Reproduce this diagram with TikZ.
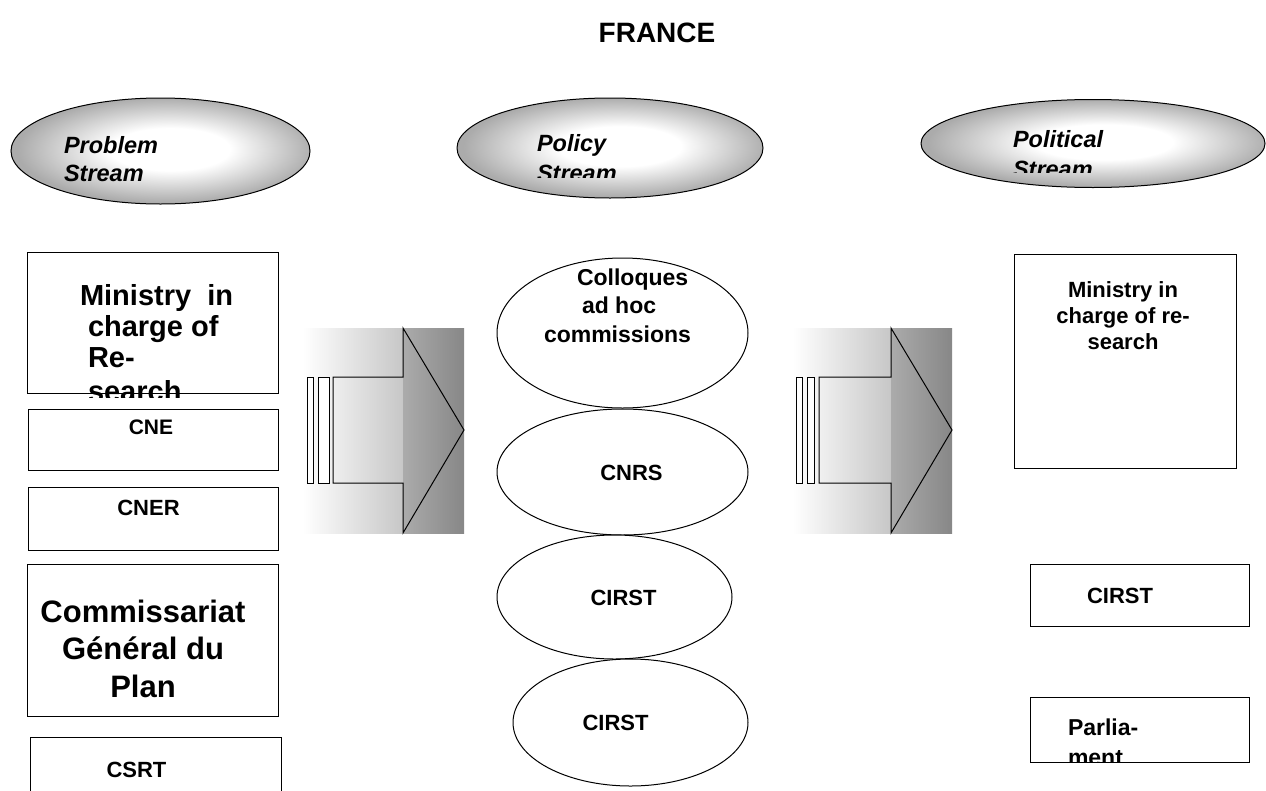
\documentclass[tikz,border=0pt]{standalone}
\usepackage{fontspec}
\setmainfont{Liberation Sans}
\usetikzlibrary{shapes.geometric}
\pgfdeclareradialshading{streamshade}{\pgfpoint{2bp}{1bp}}{color(0bp)=(white); color(10bp)=(white); color(25bp)=(black!33); color(50bp)=(black!33)}
\begin{document}
\begin{tikzpicture}[x=1pt,y=-1pt,line width=1pt,
  box/.style={draw,rectangle,inner sep=0pt,outer sep=0pt,fill=white},
  oval/.style={draw,ellipse,inner sep=0pt,outer sep=0pt,fill=white},
  stream/.style={draw,ellipse,inner sep=0pt,outer sep=0pt,shade,shading=streamshade},
  lbl/.style={inner sep=0pt,outer sep=0pt,anchor=base,font=\bfseries\fontsize{#1}{#1}\selectfont},
  lbl/.default=22,
  lblw/.style={inner sep=0pt,outer sep=0pt,anchor=base west,font=\bfseries\fontsize{#1}{#1}\selectfont},
  lblw/.default=22,
  slbl/.style={inner sep=0pt,outer sep=0pt,anchor=base west,font=\bfseries\itshape\fontsize{23.5}{23.5}\selectfont},
  bar/.style={draw,fill=white,line width=0.9pt},
  outline/.style={draw,line width=1pt,line join=miter}]
\useasboundingbox (0,0) rectangle (1266,790);
\clip (0,0) rectangle (1266,790);

% title
\node[lbl=28] (title) at (657,42) {FRANCE};

% stream ellipses
\node[stream,minimum width=299pt,minimum height=106pt] (prob) at (160.5,151) {};
\node[stream,minimum width=306pt,minimum height=100pt] (pol) at (610,148) {};
\node[stream,minimum width=344pt,minimum height=88pt] (polit) at (1093,143.5) {};
\node[slbl] (probA) at (64,153) {Problem};
\node[slbl] (probB) at (64,181) {Stream};
\node[slbl] (polA) at (537,151) {Policy};
\begin{scope}
  \clip (450,100) rectangle (760,177);
  \node[slbl] (polB) at (537,181) {Stream};
\end{scope}
\node[slbl] (politA) at (1013,147) {Political};
\begin{scope}
  \clip (930,100) rectangle (1260,172);
  \node[slbl] (politB) at (1013,177) {Stream};
\end{scope}

% left column
\node[box,minimum width=251pt,minimum height=141pt] (minL) at (152.5,322.5) {};
\node[lblw=29] (minL1) at (80,305) {Ministry~ in};
\node[lblw=29] (minL2) at (88,336) {charge of};
\node[lblw=29] (minL3) at (88,367) {Re-};
\begin{scope}
  \clip (20,380) rectangle (290,397);
  \node[lblw=29] (minL4) at (88,401) {search};
\end{scope}
\node[box,minimum width=250pt,minimum height=61pt] (cne) at (153,439.5) {};
\node[lbl=21] (cneT) at (151,434) {CNE};
\node[box,minimum width=250pt,minimum height=63pt] (cner) at (153,518.5) {};
\node[lbl=22] (cnerT) at (148.5,515) {CNER};
\node[box,minimum width=251pt,minimum height=152pt] (cgp) at (152.5,640) {};
\node[lbl=31] (cgp1) at (143,622) {Commissariat};
\node[lbl=31] (cgp2) at (143,659) {Général du};
\node[lbl=31] (cgp3) at (143,697) {Plan};
\node[box,minimum width=251pt,minimum height=56pt] (csrt) at (155.5,765) {};
\node[lbl=22] (csrtT) at (136.5,777) {CSRT};

% arrow 1
\shade[left color=white,right color=black!22] (303,328) rectangle (403,533);
\shade[left color=black!33,right color=black!47] (403,328) rectangle (464,533);
\coordinate (a1s) at (333,377);
\coordinate (a1t) at (464,430);
\draw[outline] (a1s) -- (403,377) -- (403,328) -- (a1t) -- (403,533) -- (403,483) -- (333,483) -- cycle;
\draw[bar] (307,377) rectangle (313,483);
\draw[bar] (318,377) rectangle (329,483);

% arrow 2
\shade[left color=white,right color=black!22] (793,328) rectangle (891,533);
\shade[left color=black!33,right color=black!47] (891,328) rectangle (952,533);
\coordinate (a2s) at (819,377);
\coordinate (a2t) at (952,430);
\draw[outline] (a2s) -- (891,377) -- (891,328) -- (a2t) -- (891,533) -- (891,483) -- (819,483) -- cycle;
\draw[bar] (796,377) rectangle (802,483);
\draw[bar] (807,377) rectangle (814,483);

% middle column
\node[oval,minimum width=251pt,minimum height=150pt] (coll) at (622.5,333) {};
\node[lblw=23] (coll1) at (577,285) {Colloques};
\node[lblw=23] (coll2) at (582,313) {ad hoc};
\node[lblw=23] (coll3) at (544,342) {commissions};
\node[oval,minimum width=251pt,minimum height=126pt] (cnrs) at (622.5,472) {};
\node[lbl=22] (cnrsT) at (631.5,480) {CNRS};
\node[oval,minimum width=235pt,minimum height=124pt] (cirst1) at (614.5,597) {};
\node[lbl=22] (cirst1T) at (623.5,605) {CIRST};
\node[oval,minimum width=235pt,minimum height=127pt] (cirst2) at (630.5,722.5) {};
\node[lbl=22] (cirst2T) at (615.5,730) {CIRST};

% right column
\node[box,minimum width=222pt,minimum height=214pt] (minR) at (1125,361) {};
\node[lbl=22] (minR1) at (1123,297) {Ministry in};
\node[lbl=22] (minR2) at (1123,323) {charge of re-};
\node[lbl=22] (minR3) at (1123,349) {search};
\node[box,minimum width=219pt,minimum height=62pt] (cirstR) at (1139.5,595) {};
\node[lbl=22] (cirstRT) at (1120,603) {CIRST};
\node[box,minimum width=219pt,minimum height=65pt] (parl) at (1139.5,729.5) {};
\node[lblw=23] (parl1) at (1068,735) {Parlia-};
\begin{scope}
  \clip (1030,740) rectangle (1249,762);
  \node[lblw=23] (parl2) at (1068,765) {ment};
\end{scope}
\end{tikzpicture}
\end{document}
